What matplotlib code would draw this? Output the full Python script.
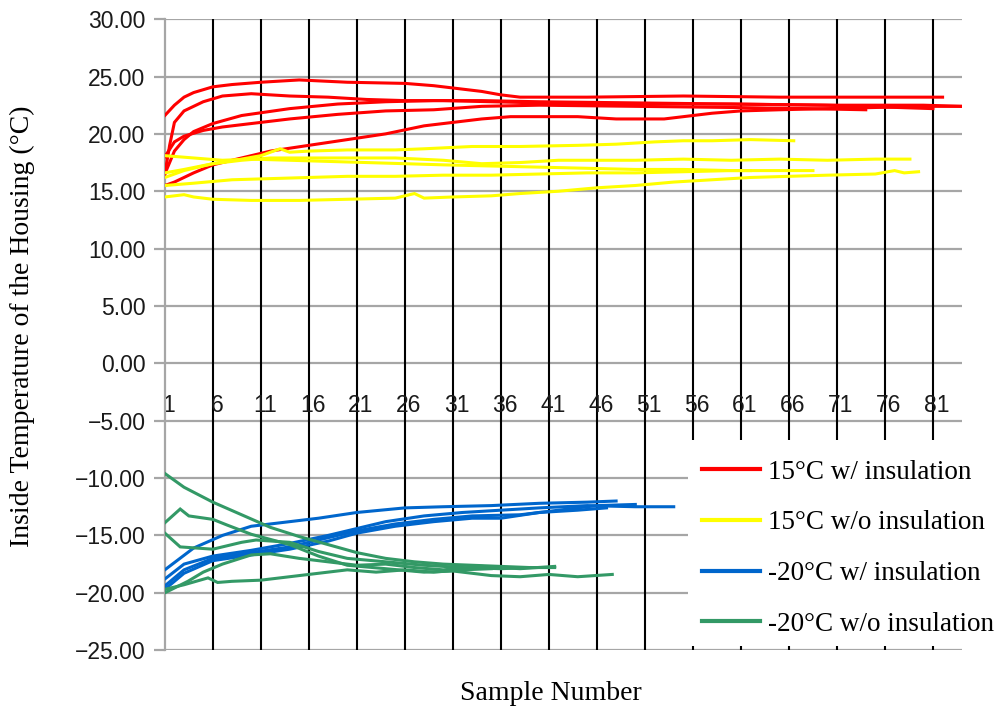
import matplotlib.pyplot as plt
import numpy as np
from matplotlib.patches import Rectangle
from matplotlib.lines import Line2D
import matplotlib.transforms as mtransforms

# temperature runs, sample number vs. inside temperature (degC)
red_x = [
    [1, 2, 3, 4, 6, 8, 11, 15, 20, 26, 29, 31, 34, 36, 38, 45, 55, 65, 75, 82],
    [1, 1.5, 2, 3, 5, 7, 10, 14, 18, 22, 26, 30, 35, 40, 50, 60, 70, 80, 84],
    [1, 2, 3, 4, 6, 9, 14, 19, 24, 29, 34, 40, 50, 60, 70, 81],
    [1, 2, 3, 5, 7, 10, 14, 19, 24, 29, 34, 40, 50, 60, 68, 74],
    [1, 2, 3, 4, 6, 9, 12, 16, 20, 24, 28, 31, 34, 37, 44, 48, 53, 55, 58, 61, 65, 70, 75, 80, 84],
]
red_y = [
    [21.6, 22.5, 23.2, 23.6, 24.1, 24.3, 24.5, 24.7, 24.5, 24.4, 24.2, 24.0, 23.7, 23.4, 23.2, 23.2, 23.3, 23.2, 23.2, 23.2],
    [16.5, 19.0, 21.0, 22.0, 22.8, 23.3, 23.5, 23.3, 23.2, 23.0, 22.9, 22.9, 22.8, 22.7, 22.6, 22.6, 22.5, 22.5, 22.4],
    [16.5, 18.5, 19.5, 20.2, 20.9, 21.6, 22.2, 22.6, 22.8, 22.9, 22.9, 22.8, 22.7, 22.6, 22.5, 22.2],
    [18.0, 19.3, 19.8, 20.3, 20.6, 20.9, 21.3, 21.7, 22.0, 22.1, 22.4, 22.5, 22.4, 22.3, 22.2, 22.1],
    [15.5, 15.8, 16.2, 16.6, 17.3, 17.9, 18.5, 19.0, 19.5, 20.0, 20.7, 21.0, 21.3, 21.5, 21.5, 21.3, 21.3, 21.5, 21.8, 22.0, 22.1, 22.2, 22.3, 22.4, 22.4],
]

yellow_x = [
    [1, 3, 6, 9, 11, 13, 14, 16, 20, 25, 28, 33, 38, 44, 48, 52, 55, 58, 62, 66.5],
    [1, 4, 7, 10, 14, 18, 22, 26, 30, 35, 40, 45, 50, 55, 60, 65, 68.5],
    [1, 3, 6, 9, 12, 16, 20, 25, 30, 34, 38, 42, 46, 50, 55, 60, 65, 70, 75, 78.6],
    [1, 4, 8, 12, 16, 20, 25, 30, 35, 40, 45, 50, 55, 60, 62],
    [1, 2, 3, 4, 6, 10, 15, 20, 25, 27, 28, 31, 35, 38, 42, 46, 50, 54, 58, 62, 66, 70, 75, 77, 78, 79.5],
]
yellow_y = [
    [16.2, 16.8, 17.4, 17.8, 18.1, 18.7, 18.4, 18.5, 18.6, 18.6, 18.7, 18.9, 18.9, 19.0, 19.1, 19.3, 19.4, 19.4, 19.5, 19.4],
    [18.1, 17.9, 17.7, 17.8, 17.7, 17.6, 17.5, 17.4, 17.3, 17.2, 17.1, 17.0, 16.9, 16.9, 16.8, 16.8, 16.8],
    [16.6, 16.9, 17.4, 17.7, 17.9, 17.9, 17.9, 17.9, 17.7, 17.4, 17.5, 17.7, 17.7, 17.7, 17.8, 17.7, 17.8, 17.7, 17.8, 17.8],
    [15.5, 15.7, 16.0, 16.1, 16.2, 16.3, 16.3, 16.4, 16.4, 16.5, 16.6, 16.6, 16.7, 16.8, 16.8],
    [14.5, 14.6, 14.7, 14.5, 14.3, 14.2, 14.2, 14.3, 14.4, 14.8, 14.4, 14.5, 14.6, 14.8, 15.0, 15.3, 15.5, 15.8, 16.0, 16.2, 16.3, 16.4, 16.5, 16.8, 16.6, 16.7],
]

blue_x = [
    [1, 4, 7, 10, 14, 17, 21, 26, 30, 35, 40, 45, 48],
    [1, 3, 6, 10, 14, 18, 21, 24, 28, 32, 36, 40, 45, 50, 54],
    [1, 3, 6, 10, 14, 18, 21, 25, 29, 33, 38, 42, 46, 50],
    [1, 3, 6, 10, 14, 18, 21, 25, 29, 33, 36, 40, 44, 47],
]
blue_y = [
    [-18.0, -16.1, -15.0, -14.2, -13.8, -13.5, -13.0, -12.6, -12.5, -12.4, -12.2, -12.1, -12.0],
    [-18.8, -17.5, -16.8, -16.3, -15.7, -15.0, -14.4, -13.8, -13.3, -13.0, -12.8, -12.6, -12.4, -12.5, -12.5],
    [-19.4, -18.0, -17.0, -16.5, -16.0, -15.2, -14.6, -14.0, -13.6, -13.3, -13.2, -12.8, -12.4, -12.3],
    [-19.7, -18.3, -17.2, -16.7, -16.2, -15.5, -14.8, -14.2, -13.8, -13.5, -13.5, -13.0, -12.8, -12.6],
]

green_x = [
    [1, 3, 6, 9, 12, 15, 18, 21, 24, 27, 30, 33, 36, 39, 41.6],
    [1, 2.6, 3.5, 6, 7.5, 10, 14, 17, 20, 24, 28, 31, 35, 38, 41, 44, 47.6],
    [1, 2.6, 6, 9, 10.5, 14, 17, 20, 24, 28, 32, 36, 39],
    [1, 3.4, 5, 7, 10, 12, 15, 18, 21, 24, 27, 30, 34, 38, 41.6],
    [1, 3, 5.5, 6.5, 8, 11, 14, 17, 20, 23, 26, 29, 32, 35],
]
green_y = [
    [-9.6, -10.8, -12.1, -13.2, -14.3, -15.1, -15.8, -16.5, -17.0, -17.3, -17.5, -17.6, -17.7, -17.8, -17.8],
    [-13.9, -12.7, -13.3, -13.6, -14.1, -14.9, -15.8, -16.8, -17.6, -17.9, -18.2, -18.1, -18.5, -18.6, -18.4, -18.6, -18.4],
    [-14.8, -16.0, -16.2, -15.6, -15.4, -15.6, -16.4, -17.0, -17.3, -17.6, -17.8, -17.9, -17.8],
    [-20.0, -19.0, -18.2, -17.5, -16.7, -16.6, -17.0, -17.3, -17.6, -17.5, -17.8, -18.0, -17.7, -17.9, -17.7],
    [-19.7, -19.3, -18.7, -19.1, -19.0, -18.9, -18.6, -18.3, -18.0, -18.2, -18.0, -18.2, -18.0, -17.9],
]

labels = ['15\u00b0C w/ insulation', '15\u00b0C w/o insulation',
          '-20\u00b0C w/ insulation', '-20\u00b0C w/o insulation']
colors = ['#ff0000', '#ffff00', '#0066cc', '#339966']
xticks = np.arange(1, 82, 5)
yticks = np.arange(-25, 31, 5)

fig = plt.figure(figsize=(10.05, 7.09), dpi=100)
ax = fig.add_axes([0.164, 0.083, 0.793, 0.890])

groups = [(red_x, red_y), (yellow_x, yellow_y), (blue_x, blue_y), (green_x, green_y)]
for (xs, ys), c in zip(groups, colors):
    for x, y in zip(xs, ys):
        ax.plot(x, y, color=c, lw=2.2, zorder=3, solid_joinstyle='miter')

ax.set_xlim(1, 84)
ax.set_ylim(-25, 30)

# grid: grey horizontal, black vertical
for v in yticks:
    ax.axhline(v, color='#a6a6a6', lw=1.6, zorder=1)
for s in xticks[1:]:
    ax.axvline(s, color='black', lw=1.5, zorder=1)

for side in ['top', 'right']:
    ax.spines[side].set_visible(False)
ax.spines['left'].set_color('#a6a6a6')
ax.spines['left'].set_linewidth(1.6)
ax.spines['bottom'].set_position(('data', 0))
ax.spines['bottom'].set_visible(False)

ax.set_yticks(yticks)
ax.yaxis.set_major_formatter(plt.FuncFormatter(lambda v, p: f'{v:.2f}'.replace('-', '\u2212')))
ax.tick_params(axis='y', length=8, width=1.6, color='#a6a6a6', labelsize=16.5, pad=6,
               labelcolor='#1a1a1a')
for t in ax.get_yticklabels():
    t.set_family('Liberation Sans')

ax.set_xticks(xticks)
ax.set_xticklabels([str(s) for s in xticks])
ax.tick_params(axis='x', length=0, labelsize=16.5, pad=22, labelcolor='#1a1a1a')
shift = mtransforms.ScaledTranslation(4 / 100, 0, fig.dpi_scale_trans)
for t in ax.get_xticklabels():
    t.set_family('Liberation Sans')
    t.set_transform(t.get_transform() + shift)

fig.text(22 / 1005, 1 - 326 / 709, 'Inside Temperature of the Housing (\u00b0C)',
         family='Liberation Serif', fontsize=20, rotation=90, ha='center', va='center')
fig.text(551 / 1005, 1 - 694 / 709, 'Sample Number', family='Liberation Serif', fontsize=20,
         ha='center', va='center')

# white box behind the legend
fig.add_artist(Rectangle((688 / 1005, 1 - 646 / 709), 317 / 1005, 206 / 709,
                         transform=fig.transFigure, facecolor='white',
                         edgecolor='none', zorder=2))
handles = [Line2D([], [], color=c, lw=3) for c in colors]
fig.legend(handles, labels, loc='upper left', bbox_to_anchor=(688 / 1005, 1 - 446 / 709),
           frameon=False, prop={'family': 'Liberation Serif', 'size': 19.5},
           handlelength=2.15, handletextpad=0.3, labelspacing=0.95, borderpad=0)

fig.savefig('out.png', dpi=100)
